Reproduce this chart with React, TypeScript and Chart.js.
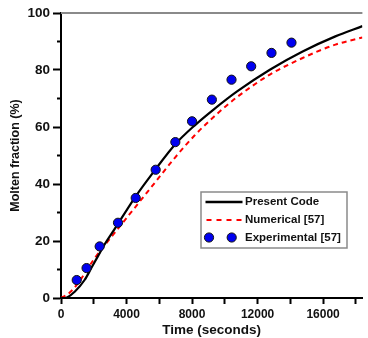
import React, { useEffect, useRef } from "react";
import { Chart, registerables } from "chart.js";

Chart.register(...registerables);

// Present Code (solid black)
const presentTime = [0, 250, 850, 1450, 1850, 2250, 2650, 3250, 4550, 5750, 6950, 8150, 9350, 10750, 12750, 14750, 16750, 18400];
const presentFrac = [0, 0, 2.3, 6.4, 10.5, 14.6, 18.7, 24.0, 35.6, 45.0, 53.8, 60.5, 66.3, 72.5, 80.1, 86.5, 91.8, 95.4];

// Numerical [57] (red dashed)
const numTime = [0, 450, 950, 2000, 3350, 4550, 5750, 6950, 8150, 9350, 10750, 12750, 14750, 16750, 18400];
const numFrac = [0, 1.5, 4.5, 13.5, 23.4, 32.0, 40.6, 49.2, 57.0, 63.7, 70.5, 78.4, 84.2, 88.9, 91.4];

// Experimental [57] (blue circles)
const expTime = [960, 1560, 2360, 3480, 4560, 5780, 6980, 8000, 9210, 10410, 11610, 12850, 14070];
const expFrac = [6.3, 10.5, 18.1, 26.4, 35.1, 45.0, 54.7, 62.0, 69.6, 76.6, 81.3, 86.0, 89.6];

// Axis ticks
const xTickValues = [0, 2000, 4000, 6000, 8000, 10000, 12000, 14000, 16000, 18000];
const xTickLabels = ["0", "", "4000", "", "8000", "", "12000", "", "16000", ""];
const yTickValues = [0, 10, 20, 30, 40, 50, 60, 70, 80, 90, 100];
const yTickLabels = ["0", "", "20", "", "40", "", "60", "", "80", "", "100"];

const seriesLabels = ["Present Code", "Numerical [57]", "Experimental [57]"];
const xTitle = "Time (seconds)";
const yTitle = "Molten fraction (%)";

const FONT = "'Liberation Sans', Arial, Helvetica, sans-serif";

const zip = (xs: number[], ys: number[]) => xs.map((x, i) => ({ x, y: ys[i] }));

const decorPlugin = {
  id: "decor",
  beforeDatasetsDraw(chart: any) {
    const { ctx, chartArea } = chart;
    ctx.save();
    // top border
    ctx.strokeStyle = "#8a8a8a";
    ctx.lineWidth = 2;
    ctx.beginPath();
    ctx.moveTo(chartArea.left, chartArea.top);
    ctx.lineTo(chartArea.right, chartArea.top);
    ctx.stroke();
    // minor y ticks (shorter)
    const ys = chart.scales.y;
    ctx.strokeStyle = "#000";
    ctx.lineWidth = 2;
    ys.ticks.forEach((t: any, i: number) => {
      if (yTickLabels[i] === "") {
        const py = ys.getPixelForValue(t.value);
        ctx.beginPath();
        ctx.moveTo(chartArea.left - 4, py);
        ctx.lineTo(chartArea.left, py);
        ctx.stroke();
      }
    });
    ctx.restore();
  },
  afterDatasetsDraw(chart: any) {
    const { ctx, chartArea } = chart;
    const ds = chart.data.datasets;
    const bx = chartArea.left + 140;
    const by = chartArea.top + 179;
    const bw = 146;
    const bh = 56;
    ctx.save();
    ctx.fillStyle = "#fff";
    ctx.fillRect(bx, by, bw, bh);
    ctx.strokeStyle = "#8a8a8a";
    ctx.lineWidth = 1.5;
    ctx.strokeRect(bx, by, bw, bh);
    const rows = [by + 10, by + 28, by + 45.5];
    const lx0 = bx + 4.5;
    const lx1 = bx + 41.5;
    ctx.font = `bold 11.5px ${FONT}`;
    ctx.textBaseline = "middle";
    ctx.textAlign = "left";
    // row 1: solid black
    ctx.strokeStyle = ds[1].borderColor;
    ctx.lineWidth = 2.5;
    ctx.setLineDash([]);
    ctx.beginPath();
    ctx.moveTo(lx0, rows[0]);
    ctx.lineTo(lx1, rows[0]);
    ctx.stroke();
    // row 2: red dashed
    ctx.strokeStyle = ds[2].borderColor;
    ctx.lineWidth = 2;
    ctx.setLineDash([5, 5]);
    ctx.beginPath();
    ctx.moveTo(lx0 + 1, rows[1]);
    ctx.lineTo(lx1, rows[1]);
    ctx.stroke();
    ctx.setLineDash([]);
    // row 3: two circles
    [bx + 8, bx + 30.7].forEach((cx) => {
      ctx.beginPath();
      ctx.arc(cx, rows[2], 4.6, 0, Math.PI * 2);
      ctx.fillStyle = ds[0].backgroundColor;
      ctx.fill();
      ctx.lineWidth = 1;
      ctx.strokeStyle = "#111";
      ctx.stroke();
    });
    ctx.fillStyle = "#111";
    ctx.fillText(ds[1].label, bx + 44, rows[0]);
    ctx.fillText(ds[2].label, bx + 44, rows[1]);
    ctx.fillText(ds[0].label, bx + 44, rows[2]);
    ctx.restore();
  },
};

export default function App() {
  const ref = useRef<HTMLCanvasElement | null>(null);
  useEffect(() => {
    if (!ref.current) return;
    const chart = new Chart(ref.current, {
      type: "scatter",
      data: {
        datasets: [
          {
            label: seriesLabels[2],
            data: zip(expTime, expFrac),
            backgroundColor: "#0000f0",
            borderColor: "#111",
            borderWidth: 1,
            pointRadius: 4.6,
            showLine: false,
          },
          {
            label: seriesLabels[0],
            data: zip(presentTime, presentFrac),
            borderColor: "#000",
            borderWidth: 2.2,
            pointRadius: 0,
            showLine: true,
            cubicInterpolationMode: "monotone",
          },
          {
            label: seriesLabels[1],
            data: zip(numTime, numFrac),
            borderColor: "#ff0000",
            borderWidth: 2,
            borderDash: [5, 4],
            pointRadius: 0,
            showLine: true,
            cubicInterpolationMode: "monotone",
          },
        ],
      } as any,
      options: {
        animation: false,
        responsive: false,
        maintainAspectRatio: false,
        layout: { padding: { top: 13, right: 0, left: 0, bottom: 0 } },
        plugins: { legend: { display: false }, tooltip: { enabled: false } },
        scales: {
          x: {
            type: "linear",
            min: 0,
            max: 18400,
            afterBuildTicks: (s: any) => {
              s.ticks = xTickValues.map((v) => ({ value: v }));
            },
            afterFit: (s: any) => {
              s.height = 40;
            },
            border: { display: true, color: "#000", width: 2 },
            grid: { drawOnChartArea: false, drawTicks: true, tickLength: 6, tickWidth: 2, tickColor: "#000" },
            ticks: {
              autoSkip: false,
              maxRotation: 0,
              minRotation: 0,
              padding: 3,
              color: "#111",
              font: { family: FONT, size: 12, weight: "bold" },
              callback: (_v: any, i: number) => xTickLabels[i],
            },
            title: {
              display: true,
              text: xTitle,
              color: "#111",
              font: { family: FONT, size: 13.5, weight: "bold" },
              padding: { top: 0, bottom: 0 },
            },
          },
          y: {
            type: "linear",
            min: 0,
            max: 100,
            afterBuildTicks: (s: any) => {
              s.ticks = yTickValues.map((v) => ({ value: v }));
            },
            afterFit: (s: any) => {
              s.width = 61;
            },
            border: { display: true, color: "#000", width: 2 },
            grid: {
              drawOnChartArea: false,
              drawTicks: true,
              tickLength: 8,
              tickWidth: 2,
              tickColor: (c: any) => (c.tick && yTickLabels[c.index] !== "" ? "#000" : "rgba(0,0,0,0)"),
            },
            ticks: {
              autoSkip: false,
              padding: 3,
              color: "#111",
              font: { family: FONT, size: 13.5, weight: "bold" },
              callback: (_v: any, i: number) => yTickLabels[i],
            },
            title: {
              display: true,
              text: yTitle,
              color: "#111",
              font: { family: FONT, size: 12.5, weight: "bold" },
              padding: { top: 8.5, bottom: 0 },
            },
          },
        },
      } as any,
      plugins: [decorPlugin],
    });
    return () => chart.destroy();
  }, []);
  return (
    <div style={{ position: "fixed", left: 0, top: 0, width: 368, height: 338, background: "#fff" }}>
      <canvas ref={ref} width={368} height={338} style={{ display: "block" }} />
    </div>
  );
}
